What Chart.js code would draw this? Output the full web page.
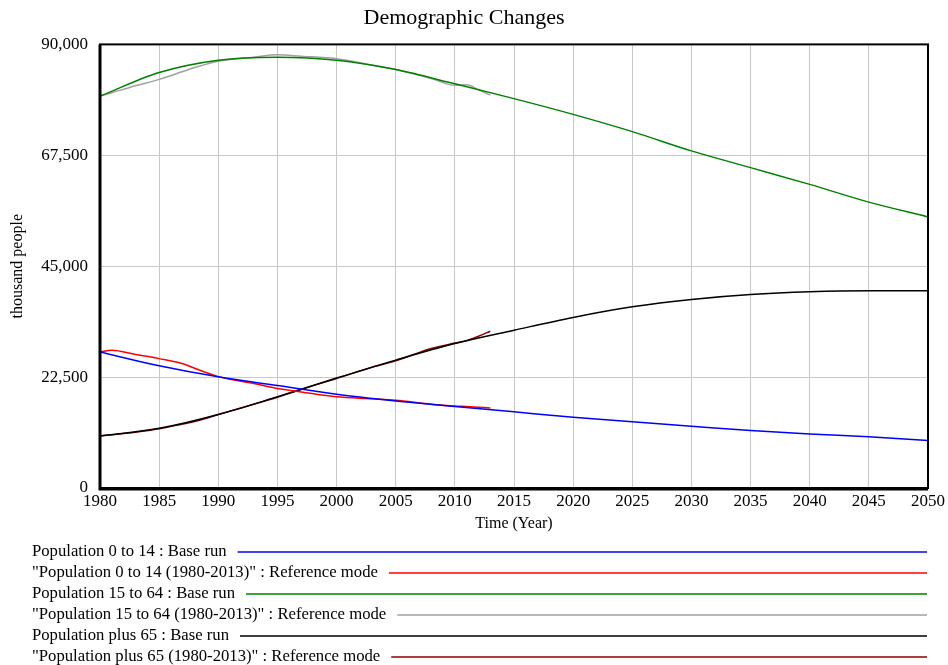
<!DOCTYPE html>
<html>
<head>
<meta charset="utf-8">
<script src="https://cdn.jsdelivr.net/npm/chart.js@4"></script>
<style>
html,body{margin:0;padding:0;background:#fff;}
#wrap{width:948px;height:665px;position:relative;}
</style>
</head>
<body>
<div id="wrap"><canvas id="c"></canvas></div>
<script>
// ---- data ----
const baseYears = [1980,1985,1990,1995,2000,2005,2010,2015,2020,2025,2030,2035,2040,2045,2050];
const pop0to14Base  = [27600,24800,22550,20800,19000,17650,16550,15450,14350,13450,12550,11650,10950,10400,9650];
const pop15to64Base = [79500,84300,86800,87400,86800,84900,82000,79000,75800,72300,68400,65000,61600,58000,55000];
const popPlus65Base = [10550,12100,14900,18500,22300,25950,29300,32000,34600,36750,38250,39250,39800,40000,40000];

const refYears = [1980,1981,1983,1985,1987,1988,1990,1993,1995,1997,2000,2003,2005,2008,2010,2011,2012,2013];
const pop0to14Ref  = [27600,27950,27100,26250,25200,24300,22600,21200,20200,19500,18500,18100,17800,17000,16650,16550,16400,16250];
const pop15to64Ref = [79500,80200,81600,82900,84500,85300,86600,87400,87900,87600,87100,85800,84900,83100,81700,81800,80800,79700];
const popPlus65Ref = [10600,10800,11300,12000,13000,13500,14900,17000,18400,20000,22200,24500,25800,28300,29400,29900,30800,31800];

const seriesLabels = [
  'Population 0 to 14 : Base run',
  '"Population 0 to 14 (1980-2013)" : Reference mode',
  'Population 15 to 64 : Base run',
  '"Population 15 to 64 (1980-2013)" : Reference mode',
  'Population plus 65 : Base run',
  '"Population plus 65 (1980-2013)" : Reference mode'
];
const xTickValues = [1980,1985,1990,1995,2000,2005,2010,2015,2020,2025,2030,2035,2040,2045,2050];
const yTickValues = [0,22500,45000,67500,90000];

// ---- styling ----
const SERIF = '"Liberation Serif","Times New Roman",serif';
const colors = ['#0000ff','#ff0000','#008000','#a0a0a0','#000000','#8b0000'];

function pts(xs, ys){ return xs.map((x,i)=>({x:x, y:ys[i]})); }
const seriesData = [
  pts(baseYears, pop0to14Base),
  pts(refYears, pop0to14Ref),
  pts(baseYears, pop15to64Base),
  pts(refYears, pop15to64Ref),
  pts(baseYears, popPlus65Base),
  pts(refYears, popPlus65Ref)
];
const datasets = seriesData.map((d,i)=>({
  label: seriesLabels[i],
  data: d,
  borderColor: colors[i],
  backgroundColor: colors[i],
  borderWidth: 1.5,
  pointRadius: 0,
  fill: false,
  cubicInterpolationMode: 'monotone'
}));

const framePlugin = {
  id: 'frame',
  afterDatasetsDraw(chart){
    const a = chart.chartArea, c = chart.ctx;
    c.save();
    c.strokeStyle = '#000';
    c.lineWidth = 2;
    c.strokeRect(a.left, a.top, a.right - a.left, a.bottom - a.top);
    c.lineWidth = 3;
    c.beginPath();
    c.moveTo(a.left, a.top); c.lineTo(a.left, a.bottom + 1);
    c.lineTo(a.right, a.bottom + 1);
    c.stroke();
    c.restore();
  }
};

const legendPlugin = {
  id: 'rowLegend',
  afterDraw(chart){
    const c = chart.ctx, a = chart.chartArea;
    c.save();
    c.font = '16.7px ' + SERIF;
    c.textBaseline = 'middle';
    c.textAlign = 'left';
    chart.data.datasets.forEach((ds, i) => {
      const y = 552 + i * 21;
      c.fillStyle = '#000';
      c.fillText(ds.label, 32, y);
      const w = c.measureText(ds.label).width;
      c.strokeStyle = ds.borderColor;
      c.lineWidth = 1.5;
      c.beginPath();
      c.moveTo(32 + w + 11, y);
      c.lineTo(a.right - 1, y);
      c.stroke();
    });
    c.restore();
  }
};

new Chart(document.getElementById('c'), {
  type: 'line',
  data: { datasets: datasets },
  options: {
    responsive: true,
    maintainAspectRatio: false,
    animation: false,
    layout: { padding: { left: 0, right: 20, top: 0, bottom: 132 } },
    plugins: {
      legend: { display: false },
      tooltip: { enabled: false },
      title: {
        display: true,
        text: 'Demographic Changes',
        color: '#000',
        font: { family: SERIF, size: 22, weight: 'normal' },
        padding: { top: 5, bottom: 13 }
      }
    },
    scales: {
      x: {
        type: 'linear',
        min: 1980, max: 2050,
        afterBuildTicks: s => { s.ticks = xTickValues.map(v => ({ value: v })); },
        afterFit: s => { s.height = 45; },
        grid: { color: '#c8c8c8', drawTicks: false, lineWidth: 1 },
        border: { display: false },
        ticks: {
          color: '#000', padding: 3, autoSkip: false, maxRotation: 0,
          font: { family: SERIF, size: 17 },
          callback: v => String(v)
        },
        title: {
          display: true, text: 'Time (Year)', color: '#000',
          font: { family: SERIF, size: 16 }, padding: { top: 0, bottom: 0 }
        }
      },
      y: {
        min: 0, max: 90000,
        afterBuildTicks: s => { s.ticks = yTickValues.map(v => ({ value: v })); },
        afterFit: s => { s.width = 100; },
        grid: { color: '#c8c8c8', drawTicks: false, lineWidth: 1 },
        border: { display: false },
        ticks: {
          color: '#000', padding: 12,
          font: { family: SERIF, size: 17 },
          callback: v => Number(v).toLocaleString('en-US')
        },
        title: {
          display: true, text: 'thousand people', color: '#000',
          font: { family: SERIF, size: 16 }, padding: { top: 8, bottom: 0 }
        }
      }
    }
  },
  plugins: [framePlugin, legendPlugin]
});
</script>
</body>
</html>
